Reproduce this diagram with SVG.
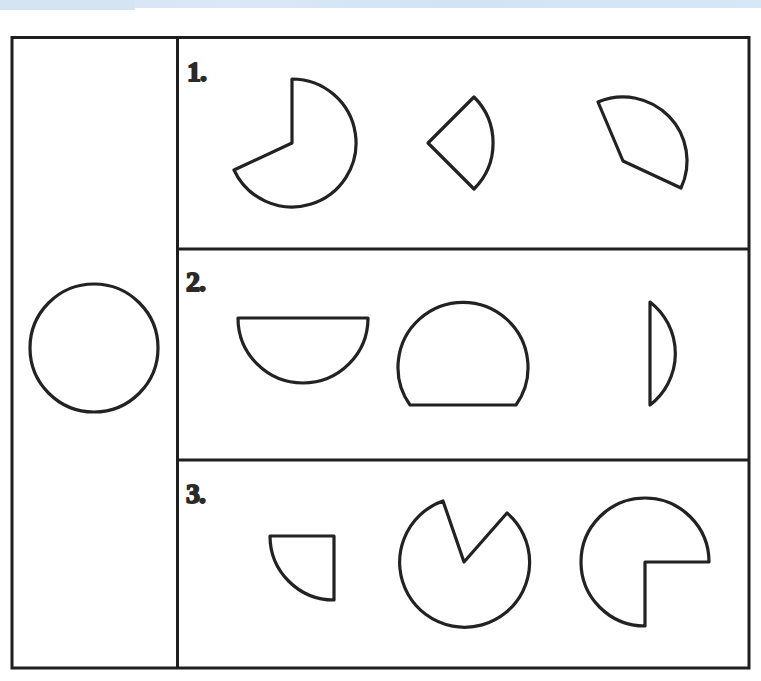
<svg xmlns="http://www.w3.org/2000/svg" width="761" height="681" viewBox="0 0 761 681">
  <defs>
    <linearGradient id="band" x1="0" y1="0" x2="1" y2="0">
      <stop offset="0" stop-color="#d3e3f3"/>
      <stop offset="0.3" stop-color="#dbe8f6"/>
      <stop offset="0.6" stop-color="#d2e3f4"/>
      <stop offset="1" stop-color="#d8e7f6"/>
    </linearGradient>
    <style>
      .frame { fill: none; stroke: #1e1e1e; stroke-width: 3; }
      .shape { fill: none; stroke: #222; stroke-width: 3.2; stroke-linejoin: round; }
      .lbl { font-family: "Liberation Serif", serif; font-weight: bold; font-size: 28px; fill: #2a2a2a; stroke: #2a2a2a; stroke-width: 1.8; stroke-linejoin: round; letter-spacing: -1px; }
    </style>
  </defs>
  <rect width="761" height="681" fill="#fff"/>
  <rect x="0" y="0" width="761" height="8" fill="url(#band)"/>
  <rect x="0" y="0" width="135" height="10" fill="#d5e4f3"/>

  <g id="frame">
    <rect class="frame" x="12" y="37.5" width="737" height="630.5"/>
    <line class="frame" x1="177.5" y1="37.5" x2="177.5" y2="668"/>
    <line class="frame" x1="177.5" y1="249" x2="749" y2="249"/>
    <line class="frame" x1="177.5" y1="460" x2="749" y2="460"/>
  </g>

  <g id="reference-circle">
    <circle class="shape" cx="94" cy="348" r="64"/>
  </g>

  <g id="row1">
    <text class="lbl" x="187" y="81">1.</text>
    <path id="r1s1" class="shape" d="M292,143 L292,79 A64,64 0 1 1 234,170 Z"/>
    <path id="r1s2" class="shape" d="M428,143 L474,97 A65,65 0 0 1 474,189 Z"/>
    <path id="r1s3" class="shape" d="M623,161 L598,102 A64,64 0 0 1 681,188 Z"/>
  </g>

  <g id="row2">
    <text class="lbl" x="186" y="291">2.</text>
    <path id="r2s1" class="shape" d="M238,318 L368,318 A65,65 0 0 1 238,318 Z"/>
    <path id="r2s2" class="shape" d="M410,405 L516,405 A65,65 0 1 0 410,405 Z"/>
    <path id="r2s3" class="shape" d="M650,302 A65,65 0 0 1 650,405 Z"/>
  </g>

  <g id="row3">
    <text class="lbl" x="186" y="503">3.</text>
    <path id="r3s1" class="shape" d="M334,536 L270,536 A64,64 0 0 0 334,600 Z"/>
    <path id="r3s2" class="shape" d="M464,562 L507,513 A65,65 0 1 1 443,501 Z"/>
    <path id="r3s3" class="shape" d="M645,562 L709,562 A64,64 0 1 0 645,626 Z"/>
  </g>
</svg>
